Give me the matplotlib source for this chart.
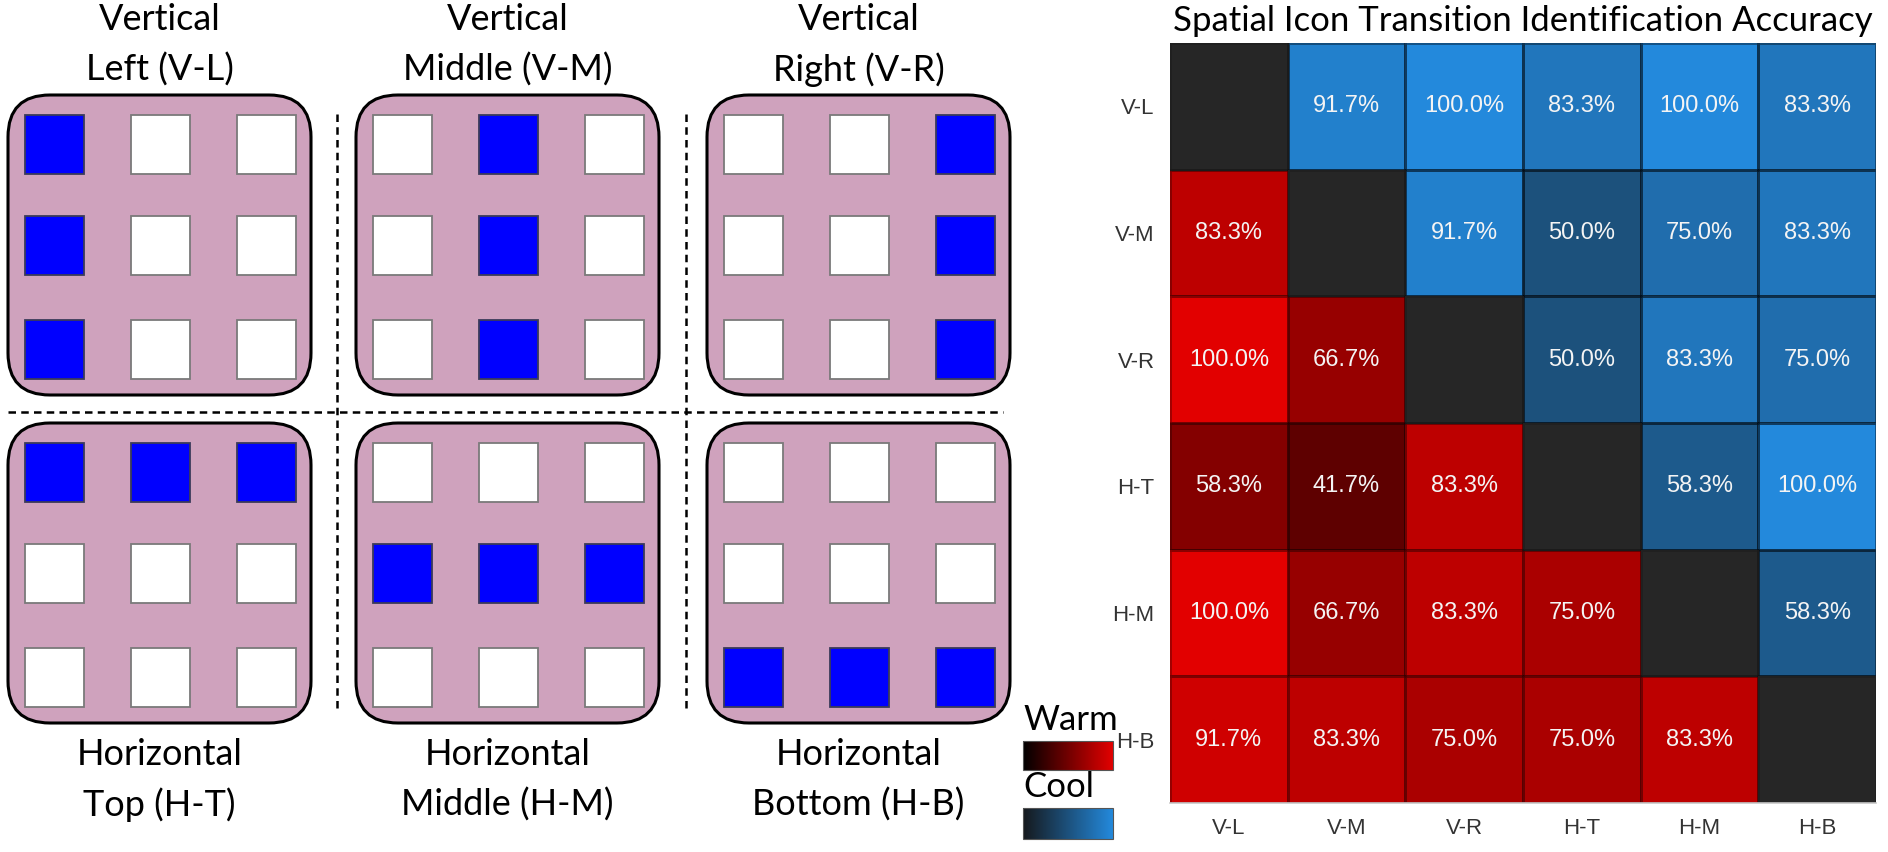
import numpy as np
import matplotlib
matplotlib.use("Agg")
import matplotlib.pyplot as plt
from matplotlib.patches import FancyBboxPatch, Rectangle
from matplotlib.colors import LinearSegmentedColormap, Normalize
from matplotlib.cm import ScalarMappable

# ---------------- data ----------------
codes = ["V-L", "V-M", "V-R", "H-T", "H-M", "H-B"]
icon_titles = ["Vertical\nLeft (V-L)", "Vertical\nMiddle (V-M)", "Vertical\nRight (V-R)",
               "Horizontal\nTop (H-T)", "Horizontal\nMiddle (H-M)", "Horizontal\nBottom (H-B)"]
# which cells of the 3x3 grid are lit (row, col)
icon_cells = [
    [(0, 0), (1, 0), (2, 0)],
    [(0, 1), (1, 1), (2, 1)],
    [(0, 2), (1, 2), (2, 2)],
    [(0, 0), (0, 1), (0, 2)],
    [(1, 0), (1, 1), (1, 2)],
    [(2, 0), (2, 1), (2, 2)],
]
nan = np.nan
accuracy = np.array([
    [nan, 91.7, 100.0, 83.3, 100.0, 83.3],
    [83.3, nan, 91.7, 50.0, 75.0, 83.3],
    [100.0, 66.7, nan, 50.0, 83.3, 75.0],
    [58.3, 41.7, 83.3, nan, 58.3, 100.0],
    [100.0, 66.7, 83.3, 75.0, nan, 58.3],
    [91.7, 83.3, 75.0, 75.0, 83.3, nan],
])
title = "Spatial Icon Transition Identification Accuracy"

W, H = 1888, 852
fig = plt.figure(figsize=(W / 100, H / 100), dpi=100)
fig.patch.set_facecolor("white")

label_font = ["Lato", "DejaVu Sans"]
narrow_font = ["Liberation Sans Narrow", "Liberation Sans", "DejaVu Sans"]

# ---------------- left: icon panels (pixel coords) ----------------
ax0 = fig.add_axes([0, 0, 1, 1])
ax0.set_xlim(0, W)
ax0.set_ylim(H, 0)
ax0.axis("off")

panel_x = [7, 355, 706]
panel_y = [94, 422]
pw, ph = 305, 302
sq = 59
col_off = [18, 124, 230]
row_off = [21, 122, 226]

for k in range(6):
    r, c = divmod(k, 3)
    x0, y0 = panel_x[c], panel_y[r]
    box = FancyBboxPatch((x0 + 1, y0 + 1), pw - 2, ph - 2,
                         boxstyle="round,pad=0,rounding_size=42",
                         fc="#cfa2bd", ec="black", lw=2.2, zorder=1)
    ax0.add_patch(box)
    for i in range(3):
        for j in range(3):
            lit = (i, j) in icon_cells[k]
            ax0.add_patch(Rectangle((x0 + col_off[j], y0 + row_off[i]), sq, sq,
                                    fc="#0000ff" if lit else "white",
                                    ec="#3a3a5a" if lit else "#7a7a7a", lw=1.3, zorder=2))
    cx = x0 + pw / 2
    ty = 45 if r == 0 else 780
    ax0.text(cx, ty, icon_titles[k], ha="center", va="center", fontsize=26,
             family=label_font, linespacing=1.6)

# dashed separators
for xv in [337, 686]:
    ax0.plot([xv, xv], [114, 710], color="black", lw=1.8, ls=(0, (3.0, 2.1)))
ax0.plot([8, 1003], [412, 412], color="black", lw=1.8, ls=(0, (3.0, 2.1)))

# ---------------- right: heatmap ----------------
hx0, hx1, hy0, hy1 = 1170, 1876, 43, 803
ax = fig.add_axes([hx0 / W, 1 - hy1 / H, (hx1 - hx0) / W, (hy1 - hy0) / H])

warm = LinearSegmentedColormap.from_list("warm", ["#000000", "#e20000"])
cool = LinearSegmentedColormap.from_list("cool", ["#15181c", "#2389dc"])
norm = Normalize(0, 100)

n = len(codes)
ii, jj = np.indices((n, n))
upper = np.ma.masked_where(~(jj > ii), accuracy)
lower = np.ma.masked_where(~(jj < ii), accuracy)
diag = np.ma.masked_where(~(jj == ii), np.ones((n, n)))
edge = (0, 0, 0, 0.15)
ax.pcolormesh(upper, cmap=cool, norm=norm, edgecolors=edge, linewidth=0.8)
ax.pcolormesh(lower, cmap=warm, norm=norm, edgecolors=edge, linewidth=0.8)
ax.pcolormesh(diag, cmap=LinearSegmentedColormap.from_list("d", ["#262626", "#262626"]),
              edgecolors=edge, linewidth=0.8)
ax.set_xlim(0, n)
ax.set_ylim(n, 0)

for i in range(n):
    for j in range(n):
        if i != j:
            ax.text(j + 0.5, i + 0.5, f"{accuracy[i, j]:.1f}%", ha="center", va="center",
                    color="#f4f4f4", fontsize=17, family=narrow_font)

ax.set_xticks(np.arange(n) + 0.5)
ax.set_yticks(np.arange(n) + 0.5)
ax.set_xticklabels(codes, family=narrow_font, fontsize=16, color="#333333")
ax.set_yticklabels(codes, family=narrow_font, fontsize=16, color="#333333")
ax.tick_params(length=0, pad=11)
for s in ["top", "right", "left"]:
    ax.spines[s].set_visible(False)
ax.spines["bottom"].set_color("#c8c8c8")
ax.spines["bottom"].set_linewidth(1.2)

fig.text((hx0 + hx1) / 2 / W, 1 - 21 / H, title, ha="center", va="center",
         fontsize=25, family=label_font)

# ---------------- Warm / Cool legend bars ----------------
for name, cmap, yt, yb in [("Warm", warm, 741, 770), ("Cool", cool, 808, 839)]:
    cax = fig.add_axes([1023 / W, 1 - yb / H, 90 / W, (yb - yt) / H])
    sm = ScalarMappable(norm=Normalize(26, 100), cmap=cmap)
    cb = fig.colorbar(sm, cax=cax, orientation="horizontal", ticks=[])
    cb.outline.set_edgecolor("#555555")
    cb.outline.set_linewidth(0.8)
    fig.text(1023 / W, 1 - (yt - 21) / H, name, ha="left", va="center",
             fontsize=25, family=label_font)

fig.savefig("out.png", dpi=100)
